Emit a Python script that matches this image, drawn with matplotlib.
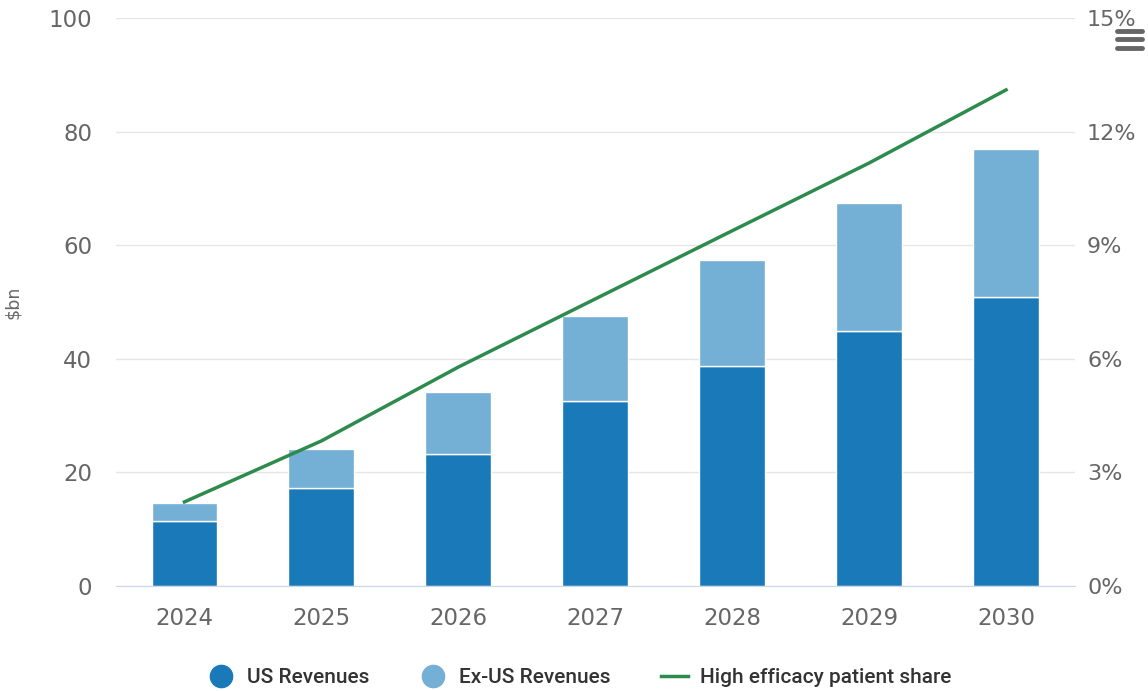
import matplotlib
matplotlib.use('Agg')
import matplotlib.pyplot as plt
from matplotlib.lines import Line2D
import numpy as np

years = ['2024', '2025', '2026', '2027', '2028', '2029', '2030']
us_revenues = [11.4, 17.3, 23.2, 32.6, 38.7, 44.9, 50.9]
ex_us_revenues = [3.2, 6.8, 11.0, 14.9, 18.7, 22.5, 26.0]
patient_share = [2.22, 3.83, 5.78, 7.58, 9.38, 11.17, 13.1]

us_color = '#1a7ab9'
ex_us_color = '#74afd5'
line_color = '#2e8b4e'
text_color = '#666666'

plt.rcParams['font.family'] = ['DejaVu Sans']

fig = plt.figure(figsize=(11.48, 6.91), dpi=100)
ax = fig.add_axes([0.101, 0.152, 0.835, 0.822])
x = np.arange(len(years))

ax.bar(x, us_revenues, width=0.48, color=us_color, edgecolor='white', linewidth=1, zorder=2)
ax.bar(x, ex_us_revenues, width=0.48, bottom=us_revenues, color=ex_us_color,
       edgecolor='white', linewidth=1, zorder=2)

ax.set_xlim(-0.5, len(years) - 0.5)
ax.set_ylim(0, 100)
ax.set_yticks(range(0, 101, 20))
ax.set_xticks(x)
ax.set_xticklabels(years)
ax.grid(axis='y', color='#e6e6e6', linewidth=1, zorder=0)
for s in ['top', 'left', 'right']:
    ax.spines[s].set_visible(False)
ax.spines['bottom'].set_color('#ccd6eb')
ax.tick_params(axis='both', length=0, labelsize=16.5, labelcolor=text_color)
ax.tick_params(axis='x', pad=15)
ax.tick_params(axis='y', pad=17)
ax.set_ylabel('$bn', fontsize=12.5, color=text_color)
ax.yaxis.set_label_coords(-0.098, 0.5)

ax2 = ax.twinx()
ax2.plot(x, patient_share, color=line_color, linewidth=2.5, zorder=3)
ax2.set_ylim(0, 15)
ax2.set_yticks(range(0, 16, 3))
ax2.set_yticklabels(['%d%%' % v for v in range(0, 16, 3)])
for s in ['top', 'left', 'right', 'bottom']:
    ax2.spines[s].set_visible(False)
ax2.tick_params(axis='y', length=0, labelsize=16, labelcolor=text_color, pad=9)

handles = [
    Line2D([], [], marker='o', linestyle='none', markersize=16, color=us_color),
    Line2D([], [], marker='o', linestyle='none', markersize=16, color=ex_us_color),
    Line2D([], [], color=line_color, linewidth=2.5),
]
labels = ['US Revenues', 'Ex-US Revenues', 'High efficacy patient share']
fig.legend(handles, labels, loc='center', bbox_to_anchor=(0.505, 0.019), ncol=3,
           frameon=False, prop={'family': ['Roboto', 'DejaVu Sans'], 'size': 15, 'weight': 'medium'},
           labelcolor='#333333', handlelength=1.3, columnspacing=2.4, handletextpad=0.6)

# menu icon in the corner
for yy in [0.955, 0.943, 0.931]:
    fig.add_artist(Line2D([0.973, 0.995], [yy, yy], color='#666666', linewidth=3.5,
                          solid_capstyle='round'))

fig.savefig('out.png', dpi=100)
